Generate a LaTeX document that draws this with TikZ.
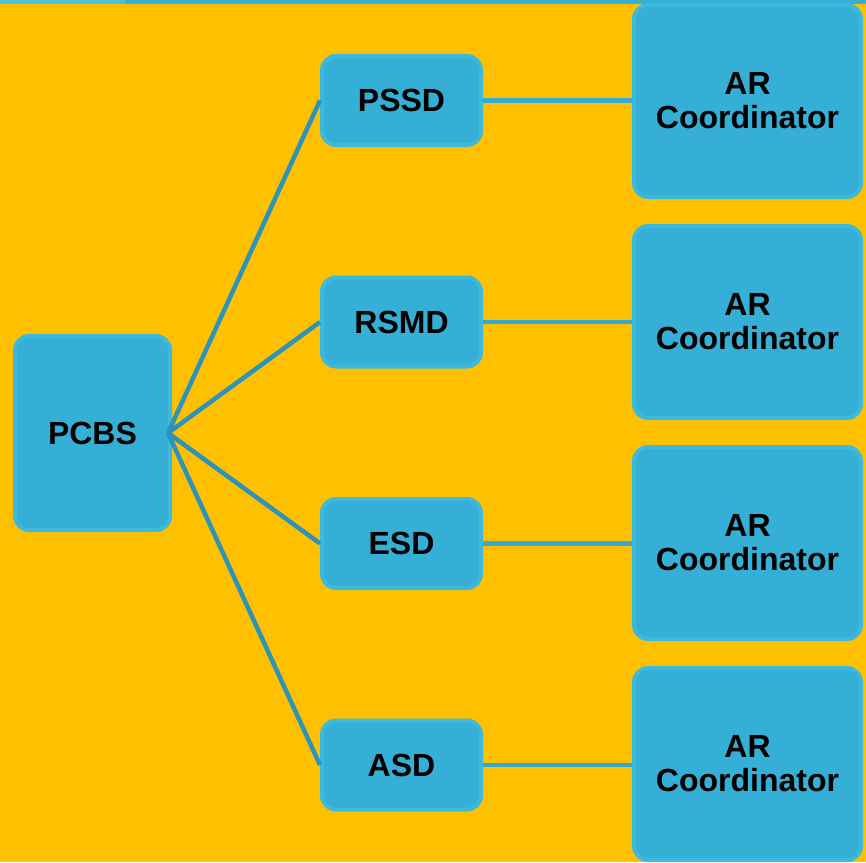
\documentclass[tikz,border=0pt]{standalone}
\usepackage{fontspec}
\setmainfont{Liberation Sans}
\definecolor{bgorange}{HTML}{FFC000}
\definecolor{boxfill}{HTML}{35AFD5}
\definecolor{boxedge}{HTML}{3EB9DE}
\definecolor{linkdark}{HTML}{2E93B8}
\definecolor{linklight}{HTML}{36A9D2}
\definecolor{striplight}{HTML}{4DC0E0}
\tikzset{
  box/.style={draw=boxedge, fill=boxfill, line width=4pt, rounded corners=14pt,
    font=\fontsize{32}{34}\selectfont\bfseries, align=center, inner sep=0pt},
  midbox/.style={box, minimum width=159pt, minimum height=89pt},
  arbox/.style={box, minimum width=227pt, minimum height=192pt},
  spoke/.style={draw=linkdark, line width=4.5pt},
  link/.style={draw=linklight, line width=4.5pt}
}
\begin{document}
\begin{tikzpicture}[x=1pt,y=-1pt]
\useasboundingbox (0,0) rectangle (866,862);
\fill[bgorange] (0,0) rectangle (866,862);
\fill[boxfill] (0,0) rectangle (866,4);
\fill[striplight] (0,0) rectangle (125,4);

\node[box, minimum width=155pt, minimum height=194pt] (pcbs) at (92.5,433) {PCBS};
\coordinate (hub) at (168,433);

\node[midbox] (pssd) at (401.5,100.5) {PSSD};
\node[midbox] (rsmd) at (401.5,322) {RSMD};
\node[midbox] (esd) at (401.5,543.5) {ESD};
\node[midbox] (asd) at (401.5,765) {ASD};

\node[arbox] (ar1) at (747.5,101) {AR\\Coordinator};
\node[arbox] (ar2) at (747.5,322) {AR\\Coordinator};
\node[arbox] (ar3) at (747.5,543) {AR\\Coordinator};
\node[arbox] (ar4) at (747.5,764) {AR\\Coordinator};

\draw[spoke] (hub) -- (pssd.west);
\draw[spoke] (hub) -- (rsmd.west);
\draw[spoke] (hub) -- (esd.west);
\draw[spoke] (hub) -- (asd.west);

\draw[link] (pssd.east) -- (ar1.west |- pssd.east);
\draw[link] (rsmd.east) -- (ar2.west |- rsmd.east);
\draw[link] (esd.east) -- (ar3.west |- esd.east);
\draw[link] (asd.east) -- (ar4.west |- asd.east);
\end{tikzpicture}
\end{document}
